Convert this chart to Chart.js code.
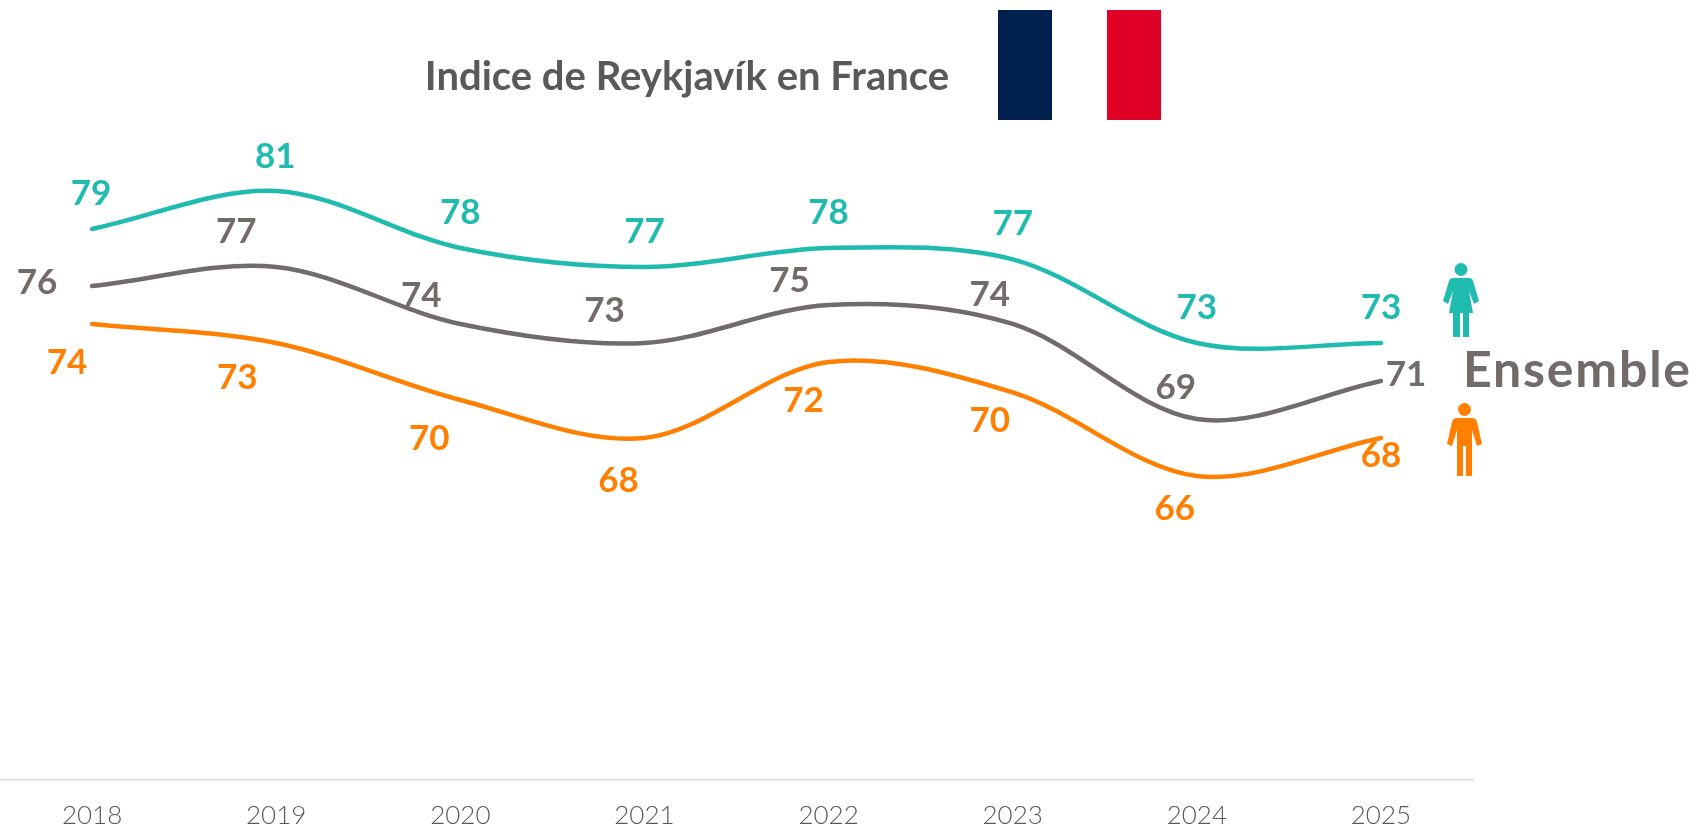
<!DOCTYPE html>
<html lang="fr">
<head>
<meta charset="utf-8">
<title>Indice de Reykjavík en France</title>
<script src="https://cdn.jsdelivr.net/npm/chart.js@4"></script>
<style>html,body{margin:0;padding:0;background:#fff;overflow:hidden}canvas{display:block}</style>
</head>
<body>
<canvas id="c" width="1708" height="828"></canvas>
<script>
const years = ['2018','2019','2020','2021','2022','2023','2024','2025'];
const femmes = [79,81,78,77,78,77.4,73,73];
const ensemble = [76,77,74,73,75,74,69,71];
const hommes = [74,73,70,68,72,70.4,66,68];

const TEAL='#1FBBAE', GREY='#736A6A', ORANGE='#FF7F00';
const FONT='Lato, "Noto Sans", sans-serif';

// Label offsets (px) from each point, per series
const femmesOff  = [[-1,-35],[-1,-34],[0,-35],[0,-35],[0,-35],[0,-36],[0,-35],[0,-35]];
const ensembleOff= [[-55,-3],[-40,-35],[-39,-28],[-40,-32],[-39,-24],[-23,-29],[-21,-31],[25,-6]];
const hommesOff  = [[-25,39],[-39,35],[-31,39],[-26,43],[-25,39],[-23,28],[-22,33],[0,18]];

const overlay = {
  id:'overlay',
  afterDatasetsDraw(chart){
    const {ctx,scales:{x,y}} = chart;
    ctx.save();
    ctx.textAlign='center'; ctx.textBaseline='middle';
    ctx.font='bold 35px '+FONT;
    [[femmes,TEAL,femmesOff],[ensemble,GREY,ensembleOff],[hommes,ORANGE,hommesOff]].forEach(([vals,col,off])=>{
      ctx.fillStyle=col;
      vals.forEach((v,i)=>{
        ctx.fillText(String(Math.round(v)), x.getPixelForValue(i)+off[i][0], y.getPixelForValue(v)+off[i][1]);
      });
    });

    ctx.fillStyle='#595959';
    ctx.font='bold 40px '+FONT;
    ctx.fillText('Indice de Reykjavík en France',687,77);

    ctx.textAlign='left'; ctx.textBaseline='alphabetic';
    ctx.fillStyle=GREY;
    ctx.font='bold 50px '+FONT;
    ctx.letterSpacing='1.8px';
    ctx.fillText('Ensemble',1463,387);
    ctx.letterSpacing='0px';

    // Flag
    ctx.fillStyle='#00214F'; ctx.fillRect(998,10,54,110);
    ctx.fillStyle='#E00025'; ctx.fillRect(1107,10,54,110);

    // Woman icon
    ctx.fillStyle=TEAL;
    ctx.beginPath(); ctx.arc(1461,269.5,6.5,0,Math.PI*2); ctx.fill();
    ctx.beginPath();
    ctx.moveTo(1453,278); ctx.lineTo(1469,278);
    ctx.quadraticCurveTo(1472,278,1473,281);
    ctx.lineTo(1479,301); ctx.lineTo(1474,304); ctx.lineTo(1469,291);
    ctx.lineTo(1473,313); ctx.lineTo(1469,313); ctx.lineTo(1469,337); ctx.lineTo(1463,337); ctx.lineTo(1463,313);
    ctx.lineTo(1460,313); ctx.lineTo(1460,337); ctx.lineTo(1453,337); ctx.lineTo(1453,313);
    ctx.lineTo(1449,313); ctx.lineTo(1453,291); ctx.lineTo(1448,304); ctx.lineTo(1443,301);
    ctx.lineTo(1449,281); ctx.quadraticCurveTo(1450,278,1453,278);
    ctx.closePath(); ctx.fill();

    // Man icon
    ctx.fillStyle=ORANGE;
    ctx.beginPath(); ctx.arc(1464.5,409.5,6.5,0,Math.PI*2); ctx.fill();
    ctx.beginPath();
    ctx.moveTo(1457,418); ctx.lineTo(1472,418);
    ctx.quadraticCurveTo(1476,418,1477,422);
    ctx.lineTo(1482,444); ctx.lineTo(1477,446); ctx.lineTo(1472,430);
    ctx.lineTo(1472,476); ctx.lineTo(1466,476); ctx.lineTo(1466,446); ctx.lineTo(1463,446); ctx.lineTo(1463,476); ctx.lineTo(1457,476);
    ctx.lineTo(1457,430); ctx.lineTo(1452,446); ctx.lineTo(1447,444);
    ctx.lineTo(1452,422); ctx.quadraticCurveTo(1453,418,1457,418);
    ctx.closePath(); ctx.fill();
    ctx.restore();
  }
};

const line = (label,data,color)=>({label,data,borderColor:color,backgroundColor:color,borderWidth:4.5,borderCapStyle:'round',tension:0.33,pointRadius:0,fill:false});

new Chart(document.getElementById('c'),{
  type:'line',
  data:{labels:years,datasets:[line('Femmes',femmes,TEAL),line('Ensemble',ensemble,GREY),line('Hommes',hommes,ORANGE)]},
  options:{
    responsive:false,animation:false,
    layout:{padding:{left:0,right:235,top:0,bottom:0}},
    plugins:{legend:{display:false},title:{display:false},tooltip:{enabled:false}},
    scales:{
      x:{offset:true,grid:{display:false,drawTicks:false},border:{color:'#D9D9D9',width:1.5},
         ticks:{color:'#595959',font:{family:FONT,size:26,weight:300},padding:20,maxRotation:0,autoSkip:false},
         afterFit(s){s.height=48;}},
      y:{display:false,min:50,max:91.05}
    }
  },
  plugins:[overlay]
});
</script>
</body>
</html>
